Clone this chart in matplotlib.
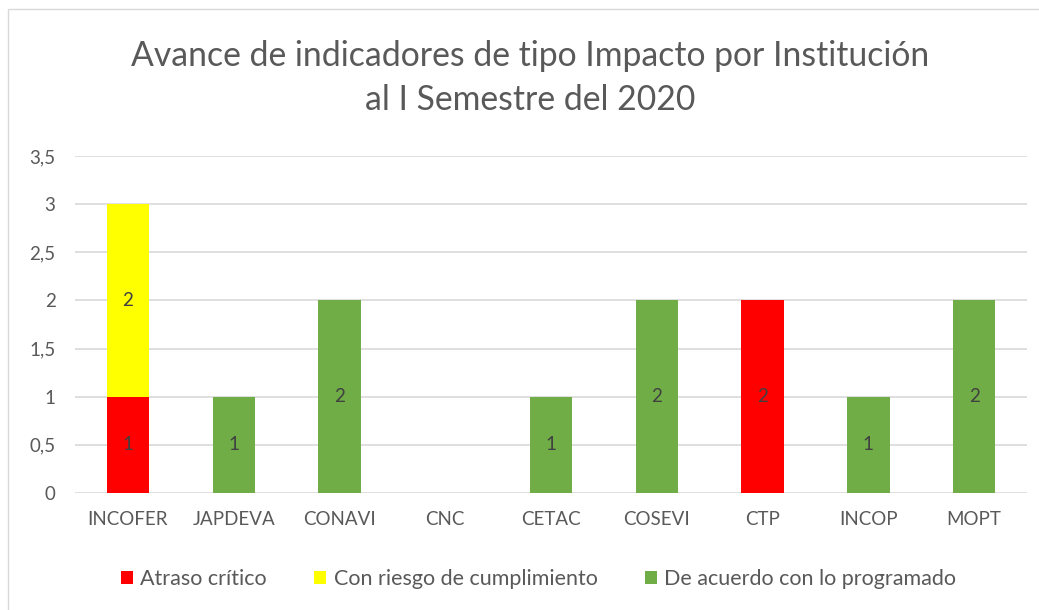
import matplotlib
matplotlib.use("Agg")
import matplotlib.pyplot as plt
from matplotlib.patches import Rectangle
import numpy as np

categories = ["INCOFER", "JAPDEVA", "CONAVI", "CNC", "CETAC", "COSEVI", "CTP", "INCOP", "MOPT"]
atraso = [1, 0, 0, 0, 0, 0, 2, 0, 0]
riesgo = [2, 0, 0, 0, 0, 0, 0, 0, 0]
acuerdo = [0, 1, 2, 0, 1, 2, 0, 1, 2]
series_names = ["Atraso crítico", "Con riesgo de cumplimiento", "De acuerdo con lo programado"]
series_colors = ["#FF0000", "#FFFF00", "#70AD47"]
yticks = [0, 0.5, 1, 1.5, 2, 2.5, 3, 3.5]
ytick_labels = ["0", "0,5", "1", "1,5", "2", "2,5", "3", "3,5"]
title = "Avance de indicadores de tipo Impacto por Institución\nal I Semestre del 2020"

plt.rcParams['font.family'] = ['Lato', 'DejaVu Sans']
fig = plt.figure(figsize=(10.39, 6.10), dpi=100)
ax = fig.add_axes([0.0722, 0.1918, 0.9163, 0.5525])

# chart border
fig.patches.append(Rectangle((0.008, -0.1), 1.1, 1.085, transform=fig.transFigure,
                             fill=False, edgecolor="#D9D9D9", linewidth=1.0))

x = np.arange(len(categories))
bottom = np.zeros(len(categories))
for vals, name, col in zip([atraso, riesgo, acuerdo], series_names, series_colors):
    vals = np.array(vals, dtype=float)
    ax.bar(x, vals, width=0.4, bottom=bottom, color=col, label=name, zorder=3)
    for xi, v, b in zip(x, vals, bottom):
        if v > 0:
            ax.text(xi, b + v / 2, f"{int(v)}", ha="center", va="center",
                    fontsize=13.5, color="#404040", zorder=4)
    bottom += vals

ax.set_xlim(-0.5, len(categories) - 0.5)
ax.set_ylim(0, 3.5)
ax.set_yticks(yticks)
ax.set_yticklabels(ytick_labels)
ax.set_xticks(x)
ax.set_xticklabels(categories)
ax.tick_params(axis="both", length=0, colors="#595959", labelsize=13.5)
ax.tick_params(axis="x", pad=13)
ax.tick_params(axis="y", pad=14)
ax.grid(axis="y", color="#D9D9D9", linewidth=1.2, zorder=0)
for s in ax.spines.values():
    s.set_visible(False)

fig.text(0.51, 0.872, title, ha="center", va="center", fontsize=24.3, color="#595959",
         linespacing=1.45)

ax.legend(loc="center", bbox_to_anchor=(0.487, -0.255), ncol=3, frameon=False,
          fontsize=15.5, labelcolor="#595959", handlelength=0.55, handleheight=0.55,
          handletextpad=0.35, columnspacing=2.2)

fig.savefig("out.png", dpi=100, facecolor="white")
